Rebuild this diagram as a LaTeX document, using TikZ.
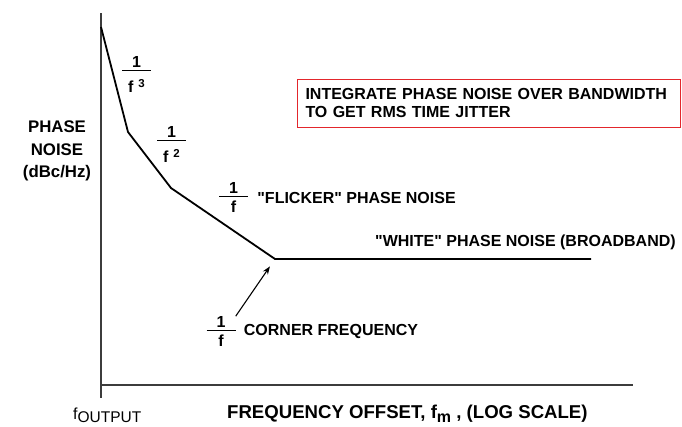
\documentclass[tikz,border=0pt]{standalone}
\usepackage{fontspec}
\setmainfont{Liberation Sans}
\usepackage{xcolor}
\usetikzlibrary{arrows.meta,positioning}
\definecolor{notered}{HTML}{E3262C}
\definecolor{axisgray}{HTML}{3C3C3C}
\newcommand{\lblfont}{\fontsize{16}{18}\selectfont\bfseries}
\newcommand{\qt}{\textquotedbl}
\newcommand{\recip}[2][4.5pt]{\vbox{\hbox to 29pt{\hss 1\hss}\kern2.5pt\hrule height 0.9pt\kern#1\hbox to 29pt{\hss #2\hss}}}
\newcommand{\fpow}[1]{f\kern5pt\raisebox{4.5pt}{\fontsize{11.5}{11.5}\selectfont #1}}

\begin{document}
\begin{tikzpicture}[x=1pt, y=-1pt,
  lbl/.style={font=\lblfont, inner sep=0pt},
  axisline/.style={axisgray, line width=1.2pt},
  noise/.style={black, line width=1.8pt, line join=round},
  pointer/.style={-{Stealth[length=8pt,width=6pt]}, line width=1.1pt, shorten >=9pt},
  notebox/.style={draw=notered, line width=1pt, font=\lblfont, align=left,
    text width=366pt, inner xsep=8.5pt, minimum height=48pt}]
\useasboundingbox (0,0) rectangle (682,426);
\draw[axisline] (101,13) -- (101,398);
\draw[axisline] (101,385) -- (633,385);
\coordinate (start) at (101,27);
\coordinate (bend3) at (128,132);
\coordinate (bend2) at (171,188);
\coordinate (knee) at (275,259);
\coordinate (flat) at (591,259);
\draw[noise] (start) -- (bend3) -- (bend2) -- (knee) -- (flat);
\node[lbl, anchor=north] (k3) at (136.5,56.7) {\recip[8.5pt]{\fpow{3}}};
\node[lbl, anchor=north] (k2) at (171.5,126.7) {\recip[8.5pt]{\fpow{2}}};
\node[lbl, anchor=north] (k1) at (233.5,182.2) {\recip{f}};
\node[lbl, right=9pt of k1] (flicker) {\qt FLICKER\qt{} PHASE NOISE};
\node[lbl, anchor=base west] (white) at (375,246.8) {\qt WHITE\qt{} PHASE NOISE (BROADBAND)};
\node[lbl, anchor=north] (kc) at (221,316.2) {\recip{f}};
\node[lbl, right=8pt of kc] (corner) {CORNER FREQUENCY};
\draw[pointer] (kc.north east) -- (knee);
\node[notebox] (note) at (488.5,103) {INTEGRATE PHASE NOISE OVER BANDWIDTH\\TO GET RMS TIME JITTER};
\node[lbl, align=center, font=\fontsize{16.8}{22.5}\selectfont\bfseries] (ylabel) at (57,151) {PHASE\\NOISE\\(dBc/Hz)};
\node[lbl, anchor=base west, font=\fontsize{16}{18}\selectfont] (origin) at (73,419) {f\raisebox{-3.4pt}{\fontsize{15.5}{15.5}\selectfont OUTPUT}};
\node[lbl, anchor=base west, font=\fontsize{18.6}{20}\selectfont\bfseries] (xlabel) at (227,418) {FREQUENCY OFFSET, f\raisebox{-4.5pt}{\fontsize{16}{16}\selectfont m} , (LOG SCALE)};
\end{tikzpicture}
\end{document}
